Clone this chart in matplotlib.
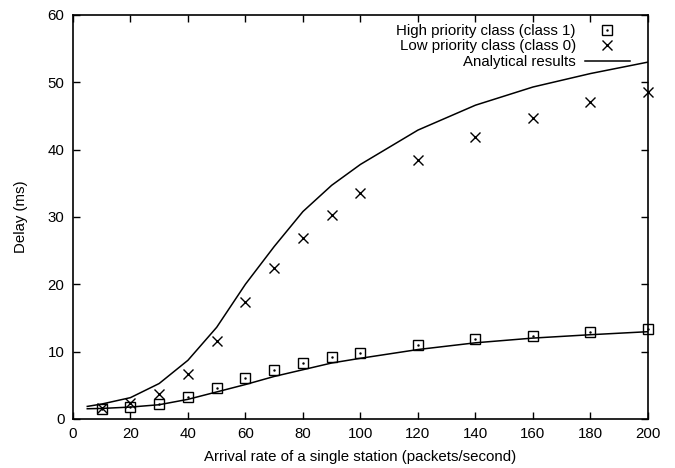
import matplotlib
matplotlib.use("Agg")
import matplotlib.pyplot as plt
from matplotlib.lines import Line2D

plt.rcParams['font.family'] = ['Liberation Sans', 'DejaVu Sans']

# Simulation points
sim_x = [10, 20, 30, 40, 50, 60, 70, 80, 90, 100, 120, 140, 160, 180, 200]
high_sim = [1.5, 1.75, 2.25, 3.25, 4.65, 6.1, 7.3, 8.3, 9.2, 9.8, 10.9, 11.8, 12.3, 12.9, 13.3]
low_sim = [1.6, 2.35, 3.65, 6.6, 11.5, 17.4, 22.4, 26.8, 30.3, 33.6, 38.4, 41.8, 44.7, 47.1, 48.5]

# Analytical curves
ana_x = [5, 10, 20, 30, 40, 50, 60, 70, 80, 90, 100, 120, 140, 160, 180, 200]
high_ana = [1.5, 1.55, 1.75, 2.1, 2.9, 4.0, 5.1, 6.3, 7.3, 8.3, 9.0, 10.3, 11.3, 12.0, 12.5, 12.95]
low_ana = [1.85, 2.2, 3.15, 5.25, 8.7, 13.6, 20.0, 25.6, 30.8, 34.7, 37.8, 42.9, 46.6, 49.3, 51.3, 53.0]

xticks = [0, 20, 40, 60, 80, 100, 120, 140, 160, 180, 200]
yticks = [0, 10, 20, 30, 40, 50, 60]

fs = 10.8

fig = plt.figure(figsize=(6.75, 4.68), dpi=100)
ax = fig.add_axes([0.108, 0.105, 0.852, 0.863])

ax.plot(ana_x, low_ana, color='black', lw=1.1)
ax.plot(ana_x, high_ana, color='black', lw=1.1)
ax.plot(sim_x, high_sim, linestyle='none', marker='s', ms=6.5, mfc='none', mec='black', mew=1.0, clip_on=False)
ax.plot(sim_x, high_sim, linestyle='none', marker='.', ms=1.5, color='black', clip_on=False)
ax.plot(sim_x, low_sim, linestyle='none', marker='x', ms=6.5, color='black', mew=1.0, clip_on=False)

ax.set_xlim(0, 200)
ax.set_ylim(0, 60)
ax.set_xticks(xticks)
ax.set_yticks(yticks)
ax.tick_params(direction='in', length=5, width=1, top=True, right=True, labelsize=fs, pad=6)
for s in ax.spines.values():
    s.set_linewidth(1.2)

ax.set_xlabel('Arrival rate of a single station (packets/second)', fontsize=fs, labelpad=6)
ax.set_ylabel('Delay (ms)', fontsize=fs, labelpad=14)

h_sq = Line2D([], [], linestyle='none', marker='s', ms=6.5, mfc='none', mec='black', mew=1.0)
h_dot = Line2D([], [], linestyle='none', marker='.', ms=1.5, color='black')
h_x = Line2D([], [], linestyle='none', marker='x', ms=6.5, color='black', mew=1.0)
h_line = Line2D([], [], color='black', lw=1.1)
leg = ax.legend([(h_sq, h_dot), h_x, h_line],
                ['High priority class (class 1)', 'Low priority class (class 0)', 'Analytical results'],
                loc='upper right', bbox_to_anchor=(0.984, 1.0), markerfirst=False, frameon=False,
                fontsize=fs, handlelength=3.0, handletextpad=0.6, labelspacing=0.1,
                borderaxespad=0.3, borderpad=0.3)

fig.savefig('out.png', dpi=100)
